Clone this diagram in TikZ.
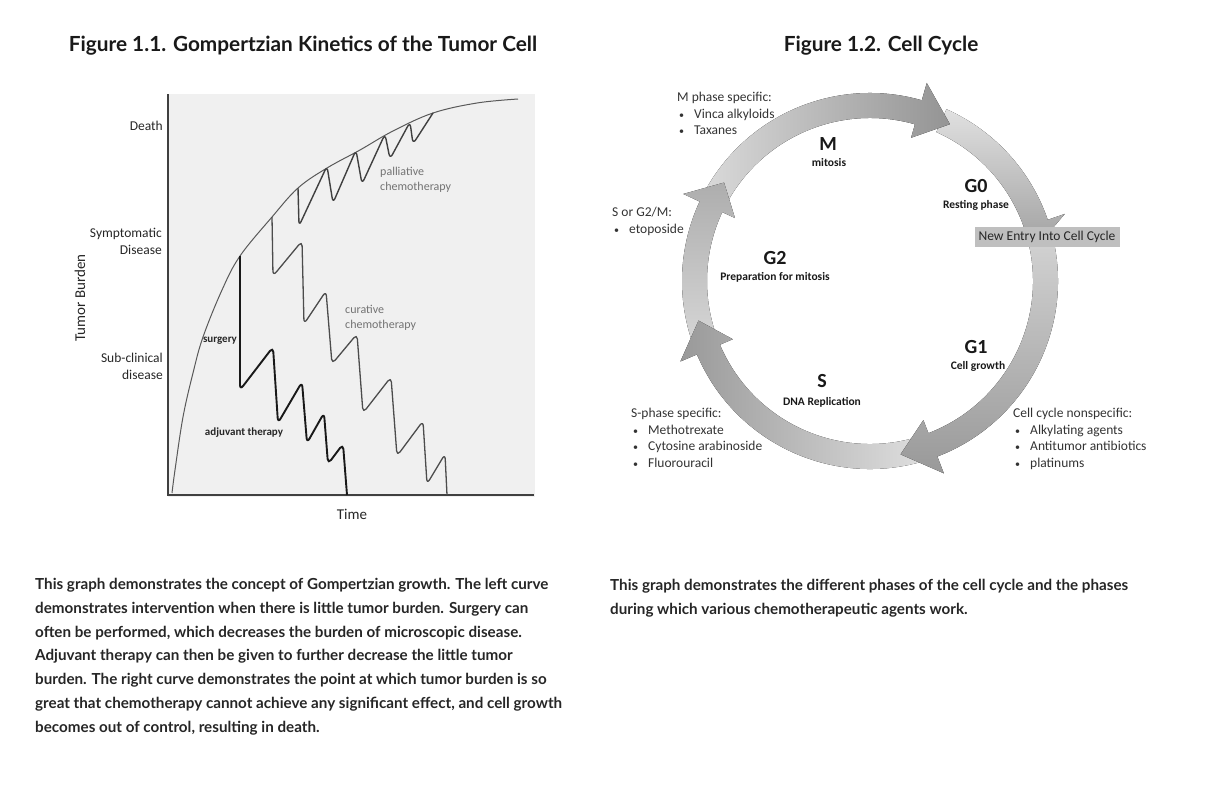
\documentclass[tikz,border=0pt]{standalone}
\usepackage{fontspec}
\setmainfont{Carlito}
\newfontfamily\headfont{Lato}
\usepackage{tikz}

% one shaded segment of the cycle ring: start angle, back of head, tip, shading
\newcommand\phasearrow[4]{%
  \fill[#4] (#1:163) arc[start angle=#1,end angle=#2,radius=163]
    -- (#2:149) -- (#3:176) -- (#2:206)
    -- (#2:188) arc[start angle=#2,end angle=#1,radius=188] -- cycle;
}
\newcommand\drug[1]{\hspace*{2pt}{\fontsize{10}{10}\selectfont\textbullet}\hspace{10pt}#1}

\begin{document}
\begin{tikzpicture}[x=1pt,y=1pt,
  title/.style={font=\headfont\bfseries\fontsize{20.8}{24}\selectfont,text=black!90},
  caption/.style={font=\headfont\bfseries\fontsize{15.2}{23.8}\selectfont,text=black!85,align=left,anchor=north west,inner sep=0pt},
  axislabel/.style={font=\fontsize{13.5}{17}\selectfont,text=black!85,align=right,anchor=east,inner sep=0pt},
  curvelabel/.style={font=\fontsize{12}{14.5}\selectfont,text=black!55,align=left,anchor=west,inner sep=0pt},
  phase/.style={font=\bfseries\fontsize{20}{22}\selectfont,text=black!90},
  phasesub/.style={font=\bfseries\fontsize{11.5}{13}\selectfont,text=black!90},
  drugs/.style={font=\fontsize{13.5}{16.7}\selectfont,text=black!80,align=left,anchor=north west,inner sep=0pt},
  tooth/.style={line width=1.6pt,rounded corners=5pt,line join=round}]
\useasboundingbox (0,0) rectangle (1226,-792);

% Figure 1.1
\node[title] (title1) at (303,-46) {Figure 1.1. Gompertzian Kinetics of the Tumor Cell};
\fill[black!6] (168,-94) rectangle (535,-497);
\draw[black!75,line width=1.6pt] (168,-94) -- (168,-495) -- (534,-495);
\draw[black!65,line width=1pt] plot[smooth,tension=0.6] coordinates {(172,-493) (175,-470) (183,-417) (193,-373) (203,-337) (222,-290) (240,-256) (272,-217) (298,-188) (327,-168) (360,-150) (393,-131) (433,-113) (477,-103) (518,-99)};
\draw[tooth,black!75,line width=1.4pt] (298,-188) -- (299,-226) -- (327,-166) -- (333,-203) -- (356,-150) -- (362,-184) -- (385,-134) -- (390,-159) -- (410,-122) -- (413,-144) -- (433,-113);
\draw[tooth,black!70,line width=1.3pt] (272,-217) -- (273,-276) -- (302,-241) -- (304,-324) -- (326,-291) -- (332,-364) -- (357,-334) -- (363,-413) -- (391,-377) -- (397,-456) -- (423,-421) -- (427,-484) -- (445,-454) -- (447,-495);
\draw[tooth,black!90,line width=1.9pt] (240,-256) -- (240,-390) -- (273,-347) -- (278,-423) -- (302,-382) -- (307,-443) -- (324,-413) -- (328,-464) -- (343,-444) -- (347,-495);
\node[axislabel] (death) at (163,-126) {Death};
\node[axislabel] (symptomatic) at (162,-241) {Symptomatic\\Disease};
\node[axislabel] (subclinical) at (163,-366) {Sub-clinical\\disease};
\node[font=\fontsize{15}{17}\selectfont,text=black!85,rotate=90] (burden) at (80,-298) {Tumor Burden};
\node[font=\fontsize{15}{17}\selectfont,text=black!85] (time) at (352,-514) {Time};
\node[font=\bfseries\fontsize{11}{13}\selectfont,text=black!85] (surgery) at (220,-341) {surgery};
\node[font=\bfseries\fontsize{11}{13}\selectfont,text=black!85] (adjuvant) at (244,-433) {adjuvant therapy};
\node[curvelabel] (palliative) at (380,-180) {palliative\\chemotherapy};
\node[curvelabel] (curative) at (345,-318) {curative\\chemotherapy};
\node[caption] (cap1) at (35,-578) {This graph demonstrates the concept of Gompertzian growth. The left curve\\
demonstrates intervention when there is little tumor burden. Surgery can\\
often be performed, which decreases the burden of microscopic disease.\\
Adjuvant therapy can then be given to further decrease the little tumor\\
burden. The right curve demonstrates the point at which tumor burden is so\\
great that chemotherapy cannot achieve any significant effect, and cell growth\\
becomes out of control, resulting in death.};

% Figure 1.2
\node[title] (title2) at (881,-46) {Figure 1.2. Cell Cycle};
\begin{scope}[shift={(870,-281)}]
\phasearrow{66}{19}{13}{top color=black!12,bottom color=black!36}
\phasearrow{150}{74}{63}{left color=black!15,right color=black!42}
\phasearrow{200}{155}{146}{bottom color=black!16,top color=black!32}
\phasearrow{-74}{-157}{-167}{right color=black!13,left color=black!40}
\phasearrow{12}{-69}{-80}{top color=black!18,bottom color=black!40}
\end{scope}
\node[fill=black!25,text=black!85,font=\fontsize{13.5}{15}\selectfont,minimum width=145pt,minimum height=20pt,inner sep=0pt] (entry) at (1047,-237) {New Entry Into Cell Cycle};
\node[phase] (mphase) at (828,-144) {M};
\node[phasesub] (mitosis) at (829,-163) {mitosis};
\node[phase] (gzero) at (976,-186) {G0};
\node[phasesub] (resting) at (976,-205) {Resting phase};
\node[phase] (gtwo) at (775,-258) {G2};
\node[phasesub] (prep) at (775,-277) {Preparation for mitosis};
\node[phase] (gone) at (976,-347) {G1};
\node[phasesub] (growth) at (978,-366) {Cell growth};
\node[phase] (sphase) at (822,-381) {S};
\node[phasesub] (replication) at (822,-402) {DNA Replication};
\node[drugs] (mdrugs) at (677,-92) {M phase specific:\\ \drug{Vinca alkyloids}\\ \drug{Taxanes}};
\node[drugs] (sgdrugs) at (612,-207) {S or G2/M:\\ \drug{etoposide}};
\node[drugs] (sdrugs) at (631,-408) {S-phase specific:\\ \drug{Methotrexate}\\ \drug{Cytosine arabinoside}\\ \drug{Fluorouracil}};
\node[drugs] (nsdrugs) at (1013,-408) {Cell cycle nonspecific:\\ \drug{Alkylating agents}\\ \drug{Antitumor antibiotics}\\ \drug{platinums}};
\node[caption] (cap2) at (610,-579) {This graph demonstrates the different phases of the cell cycle and the phases\\
during which various chemotherapeutic agents work.};
\end{tikzpicture}
\end{document}
